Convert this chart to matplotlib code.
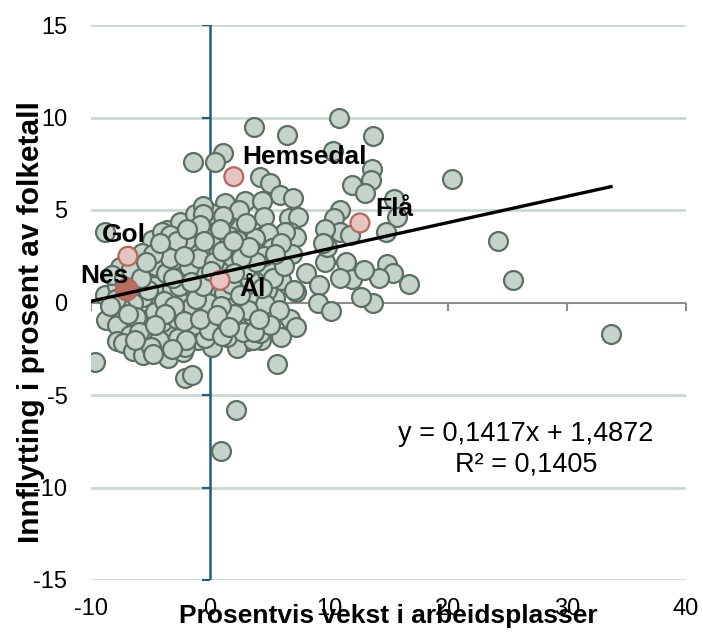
import numpy as np
import matplotlib
matplotlib.use("Agg")
import matplotlib.pyplot as plt

# data: x = growth in jobs (%), y = in-migration (% of population)
grow = [-9.7, -2.1, -1.5, 2.2, 0.9, 33.7, 24.2, 25.5, 20.3,
        15.5, 15.7, 14.8, 14.9, 15.4, 14.2, 16.7, 13.7,
        10.8, 13.7, 6.5, 3.7, 1.1, 0.4, -1.4,
        10.3, 13.6, 13.5, 11.9, 13.0, 4.2, 5.0, 5.9, 7.0, 2.9, 4.4, 1.3, -0.3,
        10.9, 10.4, 6.6, 7.4, 4.5, 2.1, 10.9, 6.7, 5.2, 4.2,
        8.1, 9.2, 9.1, 10.2, 9.7, 11.4, 11.9, 10.9, 12.9, 12.7,
        7.2, 5.5, 6.7, 7.2, 6.0, 4.9, 4.3, 3.1, 2.3, 5.6, 7.2, 6.9, 9.8, 11.8,
        6.0, 4.8, 7.1, 2.1, 0.2, 4.2, 2.7, 1.3, 5.2, -0.4, 0.0,
        0.25, 1.3, 2.4, 6.3, 4.9, 3.8, 0.7, 2.1, 3.5, 5.2, 9.7, 9.5,
        -8.8, -4.9, -3.6, -2.5, -1.3, -0.6, -5.7, -7.6,
        -8.8, -8.7, -7.8, -7.8, -6.7, -7.3, -6.5, -5.6, -5.6, -3.4, -3.4, -3.6,
        -3.5, -2.3, -2.0, -1.0, 0.2, 1.4, 3.6, 4.2, 1.1, 2.5, -0.4, -2.0, -2.3,
        -4.4, -5.6, -4.0, -2.9, -1.8, -0.3, 0.8, 2.3, -0.6, -2.5, -4.2, -5.3,
        3.6, 4.8, -1.3, 1.9, 3.1,
        -5.6, -4.0, -2.1, -1.3, 3.8, -0.4,
        -0.6, 1.1, -4.0, -3.4, -1.1, 0.25, -1.7, 1.4,
        -7.8, -8.2, -7.2, -6.3, -6.0, -6.5, -7.5, -6.2, -5.0, -4.6, -4.7, -4.5,
        -3.7, -3.2, -3.0, -2.0, -2.8,
        0.5, -0.2, 1.2, 0.3, 1.6, -1.0, -1.5, 0.7, 1.9, 2.7, 3.4, 3.9, 3.5, 4.6,
        5.8, 5.3, 6.2, 6.0, 3.0, 1.6, -0.8, -0.2, -2.8, -4.3, -6.0, -5.0, -2.7,
        -1.4, -0.1, 1.0, 2.8, 3.2, 5.0, 4.5, 2.3, -3.4, -4.8, -6.6, -5.2, -3.9,
        -2.6, -1.8, -0.9, 0.3, 1.5, 2.0,
        -3.0, -2.2, -1.2, -0.6, 0.9, 1.8, 2.5, 3.0, 3.9, 4.4, 5.5, 0.1, -1.6,
        -3.8, -4.6, -5.8, -6.9, -7.9, -8.4, -5.4, -4.2, -2.2, -0.5, 1.0, 2.6,
        3.3, -3.1, -2.0, -0.8, 0.6, 1.6, 2.0, -1.9, -3.2, -4.8, -6.3, 0.8, 1.9,
        3.7, 4.1]
inflow = [-3.2, -4.1, -3.9, -5.8, -8.0, -1.7, 3.3, 1.2, 6.7,
          5.6, 4.6, 3.8, 2.1, 1.6, 1.3, 1.0, 0.0,
          10.0, 9.0, 9.05, 9.5, 8.1, 7.6, 7.6,
          8.2, 7.2, 6.6, 6.35, 5.9, 6.8, 6.45, 5.8, 5.65, 5.5, 5.5, 5.4, 5.0,
          5.0, 4.55, 4.55, 4.6, 4.6, 4.0, 3.8, 3.8, 3.5, 3.55,
          1.6, 0.95, 0.0, -0.45, 2.2, 2.2, 1.27, 1.32, 1.76, 0.3,
          0.57, 0.25, -0.9, -1.3, -1.85, -0.7, -2.0, -2.1, -2.45, -3.3, 3.55, 2.6, 3.0, 3.65,
          1.2, 0.7, 0.7, 0.7, 0.7, 1.65, 1.85, 2.2, 2.2, 2.7, 3.9,
          4.8, 4.6, 5.0, 3.8, 3.75, 3.5, 3.4, 2.95, 2.84, 2.95, 4.0, 3.2,
          3.8, 3.4, 3.9, 4.35, 4.8, 5.2, 2.7, 1.9,
          0.4, -0.95, -1.2, -2.1, -1.75, -2.2, -2.6, -2.85, -0.3, -0.4, -1.5, -2.3,
          -3.0, -2.7, -1.5, -2.0, -2.4, -1.85, -2.0, -1.65, -0.95, -1.1, -0.55, -0.4, 0.3,
          0.4, 0.3, 2.7, 2.1, 2.9, 2.8, 1.9, 1.75, 1.75, 1.4, 1.2, 1.75,
          2.5, 1.9, 0.55, 0.13, 0.03,
          -0.95, -1.05, -2.4, -0.7, -1.2, -1.9,
          4.8, 4.7, 3.8, 3.65, 3.75, 3.55, 3.1, 3.0,
          0.9, 1.5, 1.3, 1.0, 2.0, 0.0, -0.3, -0.8, -1.5, -0.5, 0.9, 2.0,
          1.6, 0.8, 2.8, 3.4, 3.3,
          0.0, 1.2, 0.5, -1.2, -0.3, 1.5, -0.2, 2.6, 2.4, 0.9, 1.2, 0.1, -0.7, -0.1,
          -0.4, 1.3, 2.0, 3.2, 4.3, 3.6, 4.2, 0.0, -0.9, -2.0, -1.6, -2.4, -1.9,
          -1.2, -1.5, -1.8, -1.6, -0.4, -1.2, 2.5, 3.4, 2.4, 2.6, 1.8, 0.7, 0.1,
          0.9, 1.9, 2.4, 2.2, 1.3, -0.6,
          -0.2, -1.0, 0.2, 0.9, -0.2, 1.0, 0.4, 1.8, 2.2, 0.8, 2.6, 1.7, 1.1,
          -0.6, -1.2, 1.3, -0.6, 0.2, -0.2, 2.2, 3.2, 2.5, 3.3, 2.8, 2.4,
          3.0, 1.3, -2.0, -0.9, -0.7, -1.3, 1.6, 4.0, -2.5, -2.8, -2.0, 4.0, 3.3,
          -1.6, -0.9]

# highlighted municipalities
names = ["Hemsedal", "Gol", "Nes", "Ål", "Flå"]
name_x = [2.0, -6.9, -7.0, 0.85, 12.6]
name_y = [6.8, 2.5, 0.7, 1.2, 4.3]
label_off = [(51, 14), (-3, 15), (-16, 10), (23, -6), (25, 10)]

# trend line (from the chart)
slope = 0.1417
intercept = 1.4872
trend_x = [-10, 33.7]

x_ticks = [-10, 0, 10, 20, 30, 40]
y_ticks = [-15, -10, -5, 0, 5, 10, 15]

# colours
fill_c = "#C6D3CB"
edge_c = "#5B6F62"
hi_fill = "#E6C4C2"
hi_edge = "#B5685E"
nes_fill = "#B86D61"
teal = "#1E5E78"
grid_c = "#CBD8D2"

plt.rcParams['font.family'] = ['Liberation Sans', 'DejaVu Sans']
plt.rcParams['axes.unicode_minus'] = False

fig = plt.figure(figsize=(7.03, 6.37), dpi=100)
ax = fig.add_axes([91/703, 1-580/637, 595/703, 555/637])
ax.set_xlim(-10, 40)
ax.set_ylim(-15, 15)
for s in ax.spines.values():
    s.set_visible(False)

# gridlines
for yv in y_ticks:
    if yv != 0:
        ax.axhline(yv, color=grid_c, lw=2, zorder=1)

# x axis at y=0 and y axis at x=0
ax.axhline(0, color="#8C8C8C", lw=1.5, zorder=1.5)
ax.plot(x_ticks, np.zeros(len(x_ticks)), ls="none", marker=3, ms=6, mew=1.5,
        color="#8C8C8C", zorder=1.5)
ax.axvline(0, color=teal, lw=1.8, zorder=1.6)
ax.plot(np.zeros(len(y_ticks)), y_ticks, ls="none", marker=0, ms=6, mew=1.6,
        color=teal, zorder=1.6)

# points
ax.scatter(grow, inflow, s=185, c=fill_c, edgecolors=edge_c, linewidths=1.6, zorder=3)
hi_colors = [nes_fill if n == "Nes" else hi_fill for n in names]
ax.scatter(name_x, name_y, s=[185 if n != "Nes" else 240 for n in names],
           c=hi_colors, edgecolors=hi_edge, linewidths=1.6, zorder=4)

# trend line
tx = np.array(trend_x)
ax.plot(tx, slope*tx + intercept, color="black", lw=2.4, zorder=5)

for n, xx, yy, off in zip(names, name_x, name_y, label_off):
    ax.annotate(n, (xx, yy), xytext=off, textcoords="offset points",
                ha="center", va="center", fontsize=19, fontweight="bold", zorder=6)

ax.text(435/595, 1-(449-25)/555, "y = 0,1417x + 1,4872\nR² = 0,1405",
        transform=ax.transAxes, ha="center", va="center", fontsize=19.5,
        linespacing=1.22, zorder=6)

ax.set_xticks(x_ticks)
ax.set_yticks(y_ticks)
ax.tick_params(length=0, labelsize=17)
ax.tick_params(axis="y", pad=17)
ax.tick_params(axis="x", pad=13)

fig.text(388.5/703, 1-616/637, "Prosentvis vekst i arbeidsplasser", ha="center",
         va="center", fontsize=19, fontweight="bold")
fig.text(31/703, 1-322/637, "Innflytting i prosent av folketall", ha="center",
         va="center", rotation=90, fontsize=21.5, fontweight="bold")

fig.savefig("out.png", dpi=100)
